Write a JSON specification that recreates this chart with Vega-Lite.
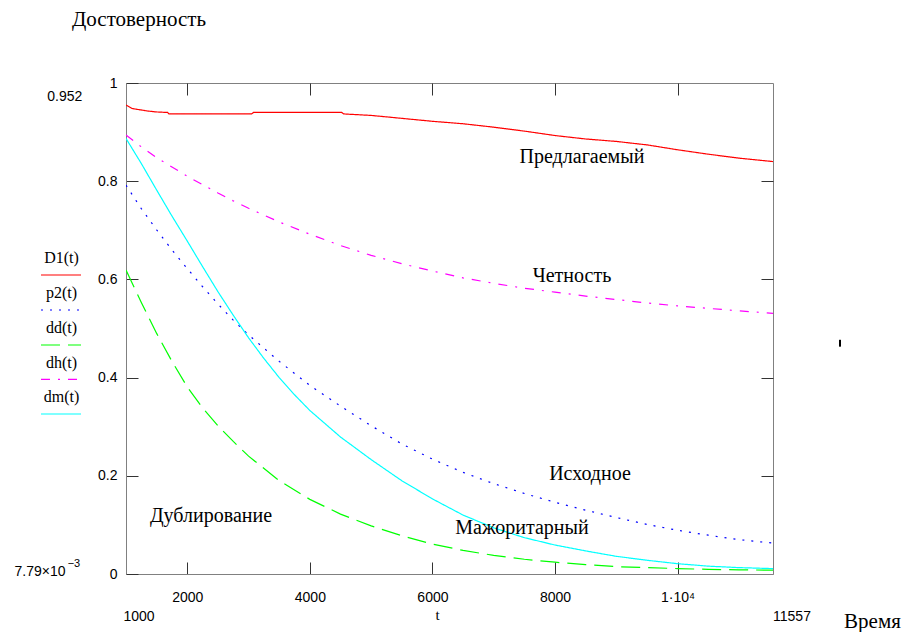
{
  "$schema": "https://vega.github.io/schema/vega-lite/v6.json",
  "width": 647,
  "height": 491,
  "autosize": {"type": "none"},
  "padding": {"left": 126, "top": 83, "right": 131, "bottom": 58},
  "background": "white",
  "config": {"view": {"stroke": "#808080", "strokeWidth": 1}, "font": "Liberation Serif"},
  "datasets": {
    "curves": [
      {"s":"D1","t":1000,"v":0.955},{"s":"D1","t":1100,"v":0.948},{"s":"D1","t":1200,"v":0.946},{"s":"D1","t":1350,"v":0.943},{"s":"D1","t":1500,"v":0.941},{"s":"D1","t":1680,"v":0.940},{"s":"D1","t":1700,"v":0.937},{"s":"D1","t":3050,"v":0.937},{"s":"D1","t":3080,"v":0.940},{"s":"D1","t":4520,"v":0.940},{"s":"D1","t":4550,"v":0.937},{"s":"D1","t":5000,"v":0.934},{"s":"D1","t":5500,"v":0.928},{"s":"D1","t":6000,"v":0.922},{"s":"D1","t":6500,"v":0.917},{"s":"D1","t":7000,"v":0.910},{"s":"D1","t":7500,"v":0.902},{"s":"D1","t":8000,"v":0.893},{"s":"D1","t":8500,"v":0.886},{"s":"D1","t":9000,"v":0.881},{"s":"D1","t":9500,"v":0.874},{"s":"D1","t":10000,"v":0.864},{"s":"D1","t":10500,"v":0.855},{"s":"D1","t":11000,"v":0.847},{"s":"D1","t":11557,"v":0.840},
      {"s":"p2","t":1000,"v":0.792},{"s":"p2","t":1250,"v":0.744},{"s":"p2","t":1500,"v":0.701},{"s":"p2","t":1750,"v":0.660},{"s":"p2","t":2000,"v":0.622},{"s":"p2","t":2250,"v":0.585},{"s":"p2","t":2500,"v":0.550},{"s":"p2","t":2750,"v":0.517},{"s":"p2","t":3000,"v":0.487},{"s":"p2","t":3500,"v":0.433},{"s":"p2","t":4000,"v":0.384},{"s":"p2","t":4500,"v":0.342},{"s":"p2","t":5000,"v":0.302},{"s":"p2","t":5500,"v":0.265},{"s":"p2","t":6000,"v":0.234},{"s":"p2","t":6500,"v":0.207},{"s":"p2","t":7000,"v":0.184},{"s":"p2","t":7500,"v":0.164},{"s":"p2","t":8000,"v":0.146},{"s":"p2","t":8500,"v":0.130},{"s":"p2","t":9000,"v":0.115},{"s":"p2","t":9500,"v":0.101},{"s":"p2","t":10000,"v":0.089},{"s":"p2","t":10500,"v":0.079},{"s":"p2","t":11000,"v":0.070},{"s":"p2","t":11557,"v":0.063},
      {"s":"dd","t":1000,"v":0.619},{"s":"dd","t":1250,"v":0.553},{"s":"dd","t":1500,"v":0.490},{"s":"dd","t":1750,"v":0.433},{"s":"dd","t":2000,"v":0.381},{"s":"dd","t":2250,"v":0.338},{"s":"dd","t":2500,"v":0.302},{"s":"dd","t":2750,"v":0.270},{"s":"dd","t":3000,"v":0.240},{"s":"dd","t":3500,"v":0.190},{"s":"dd","t":4000,"v":0.152},{"s":"dd","t":4500,"v":0.122},{"s":"dd","t":5000,"v":0.098},{"s":"dd","t":5500,"v":0.078},{"s":"dd","t":6000,"v":0.061},{"s":"dd","t":6500,"v":0.048},{"s":"dd","t":7000,"v":0.038},{"s":"dd","t":7500,"v":0.030},{"s":"dd","t":8000,"v":0.024},{"s":"dd","t":8500,"v":0.019},{"s":"dd","t":9000,"v":0.015},{"s":"dd","t":9500,"v":0.013},{"s":"dd","t":10000,"v":0.011},{"s":"dd","t":10500,"v":0.0095},{"s":"dd","t":11000,"v":0.0085},{"s":"dd","t":11557,"v":0.0078},
      {"s":"dh","t":1000,"v":0.894},{"s":"dh","t":1250,"v":0.870},{"s":"dh","t":1500,"v":0.848},{"s":"dh","t":1750,"v":0.829},{"s":"dh","t":2000,"v":0.810},{"s":"dh","t":2250,"v":0.793},{"s":"dh","t":2500,"v":0.776},{"s":"dh","t":2750,"v":0.760},{"s":"dh","t":3000,"v":0.745},{"s":"dh","t":3500,"v":0.717},{"s":"dh","t":4000,"v":0.692},{"s":"dh","t":4500,"v":0.669},{"s":"dh","t":5000,"v":0.649},{"s":"dh","t":5500,"v":0.632},{"s":"dh","t":6000,"v":0.617},{"s":"dh","t":6500,"v":0.603},{"s":"dh","t":7000,"v":0.592},{"s":"dh","t":7500,"v":0.582},{"s":"dh","t":8000,"v":0.574},{"s":"dh","t":8500,"v":0.566},{"s":"dh","t":9000,"v":0.559},{"s":"dh","t":9500,"v":0.552},{"s":"dh","t":10000,"v":0.546},{"s":"dh","t":10500,"v":0.541},{"s":"dh","t":11000,"v":0.536},{"s":"dh","t":11557,"v":0.531},
      {"s":"dm","t":1000,"v":0.887},{"s":"dm","t":1250,"v":0.836},{"s":"dm","t":1500,"v":0.782},{"s":"dm","t":1750,"v":0.729},{"s":"dm","t":2000,"v":0.678},{"s":"dm","t":2250,"v":0.626},{"s":"dm","t":2500,"v":0.575},{"s":"dm","t":2750,"v":0.527},{"s":"dm","t":3000,"v":0.481},{"s":"dm","t":3250,"v":0.439},{"s":"dm","t":3500,"v":0.400},{"s":"dm","t":3750,"v":0.365},{"s":"dm","t":4000,"v":0.333},{"s":"dm","t":4500,"v":0.279},{"s":"dm","t":5000,"v":0.233},{"s":"dm","t":5500,"v":0.190},{"s":"dm","t":6000,"v":0.153},{"s":"dm","t":6500,"v":0.120},{"s":"dm","t":7000,"v":0.094},{"s":"dm","t":7500,"v":0.074},{"s":"dm","t":8000,"v":0.059},{"s":"dm","t":8500,"v":0.047},{"s":"dm","t":9000,"v":0.036},{"s":"dm","t":9500,"v":0.028},{"s":"dm","t":10000,"v":0.021},{"s":"dm","t":10500,"v":0.016},{"s":"dm","t":11000,"v":0.013},{"s":"dm","t":11557,"v":0.011}
    ],
    "legend": [
      {"s":"D1","label":"D1(t)","t1":-387,"t2":266,"tx":-52,"ly":0.609,"ty":0.643},
      {"s":"p2","label":"p2(t)","t1":-387,"t2":266,"tx":-52,"ly":0.5377,"ty":0.5717},
      {"s":"dd","label":"dd(t)","t1":-387,"t2":266,"tx":-52,"ly":0.4664,"ty":0.5004},
      {"s":"dh","label":"dh(t)","t1":-387,"t2":266,"tx":-52,"ly":0.3965,"ty":0.4291},
      {"s":"dm","label":"dm(t)","t1":-387,"t2":266,"tx":-52,"ly":0.3259,"ty":0.3611}
    ],
    "notes": [
      {"label":"Предлагаемый","t":8440,"v":0.849},
      {"label":"Четность","t":8277,"v":0.607},
      {"label":"Исходное","t":8571,"v":0.2037},
      {"label":"Мажоритарный","t":7461,"v":0.0937},
      {"label":"Дублирование","t":2387,"v":0.118}
    ],
    "titles": [
      {"label":"Достоверность","t":1212,"v":1.128},
      {"label":"Время","t":13180,"v":-0.0977}
    ],
    "limits": [
      {"label":"1000","t":1212,"v":-0.0876},
      {"label":"11557","t":11867,"v":-0.0876},
      {"label":"0.952","t":1,"v":0.9715},
      {"label":"7.79×10","t":-403,"v":0.004}
    ],
    "sups": [
      {"label":"−3","t":150,"v":0.02}
    ],
    "marker": [
      {"t":12650,"v1":0.463,"v2":0.477}
    ]
  },
  "resolve": {"axis": {"x": "independent", "y": "independent"}},
  "layer": [
    {
      "data": {"name": "curves"},
      "mark": {"type": "line", "strokeWidth": 1.2, "clip": true},
      "encoding": {
        "x": {"field": "t", "type": "quantitative",
              "scale": {"domain": [1000, 11557], "nice": false, "zero": false},
              "axis": {"orient": "bottom", "values": [2000, 4000, 6000, 8000, 10000],
                       "labelExpr": "datum.value == 10000 ? '1·10⁴' : datum.value",
                       "tickSize": -12, "tickColor": "#333", "domainColor": "#808080",
                       "labelPadding": 28, "labelFont": "Liberation Sans", "labelFontSize": 14, "labelColor": "black",
                       "grid": false, "title": "t", "titleFont": "Liberation Serif", "titleFontSize": 15,
                       "titleFontWeight": "normal", "titleX": 311, "titleY": 40, "titleBaseline": "middle", "titleColor": "black"}},
        "y": {"field": "v", "type": "quantitative",
              "scale": {"domain": [0, 1], "nice": false, "zero": false},
              "axis": {"orient": "left", "values": [0, 0.2, 0.4, 0.6, 0.8, 1],
                       "labelExpr": "format(datum.value, '~g')",
                       "tickSize": -12, "tickColor": "#333", "domainColor": "#808080",
                       "labelPadding": 21, "labelFont": "Liberation Sans", "labelFontSize": 14, "labelColor": "black",
                       "grid": false, "title": null}},
        "color": {"field": "s", "type": "nominal",
                  "scale": {"domain": ["D1","p2","dd","dh","dm"], "range": ["#ff0000","#0000ff","#00ff00","#ff00ff","#00ffff"]},
                  "legend": null},
        "strokeDash": {"field": "s", "type": "nominal",
                       "scale": {"domain": ["D1","p2","dd","dh","dm"], "range": [[1,0],[2,7],[19,8],[9,8,2,8],[1,0]]},
                       "legend": null}
      }
    },
    {
      "data": {"name": "legend"},
      "mark": {"type": "rule", "strokeWidth": 1.2},
      "encoding": {
        "x": {"field": "t1", "type": "quantitative", "scale": {"domain": [1000, 11557], "nice": false, "zero": false}, "axis": null},
        "x2": {"field": "t2"},
        "y": {"field": "ly", "type": "quantitative", "scale": {"domain": [0, 1], "nice": false, "zero": false}, "axis": null},
        "color": {"field": "s", "type": "nominal", "legend": null},
        "strokeDash": {"field": "s", "type": "nominal", "legend": null}
      }
    },
    {
      "data": {"name": "legend"},
      "mark": {"type": "text", "font": "Liberation Serif", "fontSize": 16, "color": "black", "baseline": "middle"},
      "encoding": {
        "x": {"field": "tx", "type": "quantitative", "scale": {"domain": [1000, 11557], "nice": false, "zero": false}, "axis": null},
        "y": {"field": "ty", "type": "quantitative", "scale": {"domain": [0, 1], "nice": false, "zero": false}, "axis": null},
        "text": {"field": "label"}
      }
    },
    {
      "data": {"name": "notes"},
      "mark": {"type": "text", "font": "Liberation Serif", "fontSize": 20, "color": "black", "baseline": "middle"},
      "encoding": {
        "x": {"field": "t", "type": "quantitative", "scale": {"domain": [1000, 11557], "nice": false, "zero": false},
              "axis": {"orient": "top", "values": [2000, 4000, 6000, 8000, 10000], "labels": false, "domain": false,
                       "tickSize": -12, "tickColor": "#333", "grid": false, "title": null}},
        "y": {"field": "v", "type": "quantitative", "scale": {"domain": [0, 1], "nice": false, "zero": false},
              "axis": {"orient": "right", "values": [0.2, 0.4, 0.6, 0.8], "labels": false, "domain": false,
                       "tickSize": -12, "tickColor": "#333", "grid": false, "title": null}},
        "text": {"field": "label"}
      }
    },
    {
      "data": {"name": "titles"},
      "mark": {"type": "text", "font": "Liberation Serif", "fontSize": 21, "color": "black", "baseline": "middle"},
      "encoding": {
        "x": {"field": "t", "type": "quantitative", "scale": {"domain": [1000, 11557], "nice": false, "zero": false}, "axis": null},
        "y": {"field": "v", "type": "quantitative", "scale": {"domain": [0, 1], "nice": false, "zero": false}, "axis": null},
        "text": {"field": "label"}
      }
    },
    {
      "data": {"name": "limits"},
      "mark": {"type": "text", "font": "Liberation Sans", "fontSize": 14, "color": "black", "baseline": "middle"},
      "encoding": {
        "x": {"field": "t", "type": "quantitative", "scale": {"domain": [1000, 11557], "nice": false, "zero": false}, "axis": null},
        "y": {"field": "v", "type": "quantitative", "scale": {"domain": [0, 1], "nice": false, "zero": false}, "axis": null},
        "text": {"field": "label"}
      }
    },
    {
      "data": {"name": "sups"},
      "mark": {"type": "text", "font": "Liberation Sans", "fontSize": 11, "color": "black", "baseline": "middle"},
      "encoding": {
        "x": {"field": "t", "type": "quantitative", "scale": {"domain": [1000, 11557], "nice": false, "zero": false}, "axis": null},
        "y": {"field": "v", "type": "quantitative", "scale": {"domain": [0, 1], "nice": false, "zero": false}, "axis": null},
        "text": {"field": "label"}
      }
    },
    {
      "data": {"name": "marker"},
      "mark": {"type": "rule", "strokeWidth": 2, "color": "black"},
      "encoding": {
        "x": {"field": "t", "type": "quantitative", "scale": {"domain": [1000, 11557], "nice": false, "zero": false}, "axis": null},
        "y": {"field": "v1", "type": "quantitative", "scale": {"domain": [0, 1], "nice": false, "zero": false}, "axis": null},
        "y2": {"field": "v2"}
      }
    }
  ]
}
